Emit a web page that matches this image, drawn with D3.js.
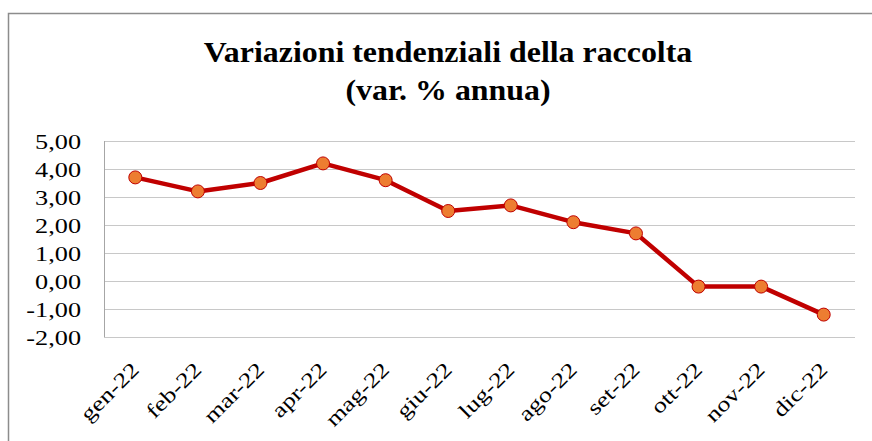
<!DOCTYPE html>
<html lang="it">
<head>
<meta charset="UTF-8">
<title>Variazioni tendenziali della raccolta</title>
<script src="https://cdn.jsdelivr.net/npm/d3@7"></script>
<style>
  body { margin: 0; background: #fff; }
  text { font-family: "Liberation Serif", "Times New Roman", serif; fill: #000; }
</style>
</head>
<body>
<div id="chart"></div>
<script>
var mesi = ["gen-22","feb-22","mar-22","apr-22","mag-22","giu-22","lug-22","ago-22","set-22","ott-22","nov-22","dic-22"];
var variazioni = [3.7, 3.2, 3.5, 4.2, 3.6, 2.5, 2.7, 2.1, 1.7, -0.2, -0.2, -1.2];
var yTicks = [-2, -1, 0, 1, 2, 3, 4, 5];
var titolo = ["Variazioni tendenziali della raccolta", "(var. % annua)"];

var width = 872, height = 441,
    margin = {top: 141, right: 17, bottom: 104, left: 104},
    g_width = width - margin.left - margin.right,
    g_height = height - margin.top - margin.bottom;

var svg = d3.select("#chart").append("svg")
    .attr("width", width).attr("height", height);

// cornice esterna
svg.append("rect")
    .attr("x", 8.5).attr("y", 13.5)
    .attr("width", width + 10).attr("height", height + 10)
    .attr("fill", "none").attr("stroke", "#8c8c8c").attr("stroke-width", 1.5);

// titolo (il font dell'originale e' piu' largo)
svg.selectAll(".titolo").data(titolo).enter().append("text")
    .attr("class", "titolo")
    .attr("transform", function(d, i) { return "translate(448," + (62 + i * 38) + ") scale(1.1,1)"; })
    .attr("text-anchor", "middle")
    .style("font-size", "29px").style("font-weight", "bold")
    .text(function(d) { return d; });

var x = d3.scaleBand().domain(mesi).range([0, g_width]);
var y = d3.scaleLinear().domain([-2, 5]).range([g_height, 0]);

var g = svg.append("g").attr("transform", "translate(" + margin.left + "," + margin.top + ")");

// griglia
g.selectAll(".grid").data(yTicks).enter().append("line")
    .attr("x1", 0).attr("x2", g_width)
    .attr("y1", function(d) { return Math.round(y(d)) + 0.5; })
    .attr("y2", function(d) { return Math.round(y(d)) + 0.5; })
    .attr("stroke", "#c8c8c8").attr("stroke-width", 1);

// asse Y
var yAxis = g.append("g")
    .call(d3.axisLeft(y).tickValues(yTicks).tickSize(0)
        .tickFormat(function(d) { return d3.format(".2f")(d).replace(".", ",").replace("\u2212", "-"); }));
yAxis.select(".domain").attr("stroke", "#a6a6a6").attr("d", "M0.5,0V" + g_height);
yAxis.selectAll("text")
    .style("font-size", "21px").style("font-family", "'Liberation Serif', serif")
    .attr("x", -18.4).attr("dy", "0.35em")
    .attr("transform", "scale(1.25,1)");

// asse X
var xAxis = g.append("g").attr("transform", "translate(0," + g_height + ")")
    .call(d3.axisBottom(x).tickSize(0).tickPadding(0));
xAxis.select(".domain").remove();
xAxis.selectAll("text")
    .style("font-size", "21px").style("font-family", "'Liberation Serif', serif")
    .attr("text-anchor", "end")
    .attr("y", 0).attr("dy", "0")
    .attr("transform", "translate(5,34) rotate(-45) scale(1.25,1)");

// linea
var linea = d3.line()
    .x(function(d, i) { return x(mesi[i]) + x.bandwidth() / 2; })
    .y(function(d) { return y(d); });

g.append("path")
    .attr("d", linea(variazioni))
    .attr("fill", "none").attr("stroke", "#c00000").attr("stroke-width", 4.5)
    .attr("stroke-linejoin", "round");

g.selectAll(".punto").data(variazioni).enter().append("circle")
    .attr("cx", function(d, i) { return x(mesi[i]) + x.bandwidth() / 2; })
    .attr("cy", function(d) { return y(d); })
    .attr("r", 6.5)
    .attr("fill", "#ed7d31").attr("stroke", "#c00000").attr("stroke-width", 1);
</script>
</body>
</html>
